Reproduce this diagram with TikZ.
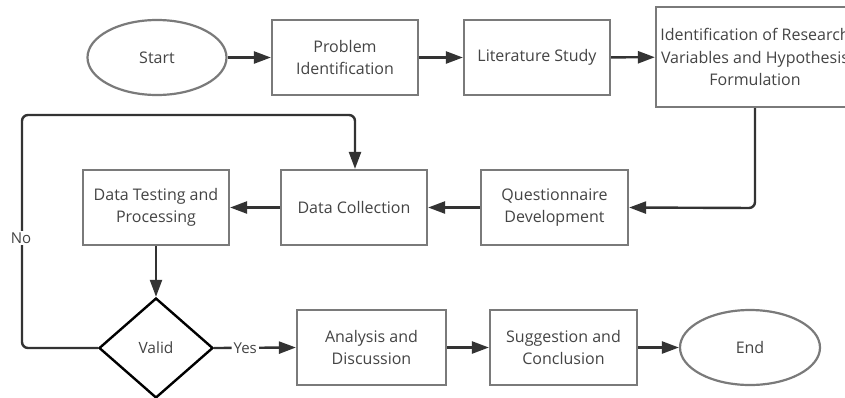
\documentclass[tikz,border=0pt]{standalone}
\usepackage{fontspec}
\setmainfont{Open Sans}
\usetikzlibrary{arrows.meta,shapes.geometric}
\definecolor{boxline}{HTML}{7A7A7A}
\definecolor{conn}{HTML}{333333}
\definecolor{txt}{HTML}{444444}
\tikzset{
  x=1pt,y=-1pt,
  procbox/.style={draw=boxline,line width=2.2pt,fill=white,minimum width=146pt,minimum height=75pt,align=center,text=txt,font=\fontsize{16}{22.5}\selectfont,inner sep=0pt},
  termbox/.style={ellipse,draw=boxline,line width=2.2pt,fill=white,minimum width=139pt,minimum height=75pt,text=txt,font=\fontsize{16}{22.5}\selectfont,inner sep=0pt},
  decbox/.style={diamond,draw=black,line width=2.4pt,fill=white,minimum width=114pt,minimum height=100pt,text=txt,font=\fontsize{15.5}{18}\selectfont,inner sep=0pt,aspect=1.14},
  arr/.style={draw=conn,line width=2.4pt,-{Triangle[length=17pt,width=12pt]},rounded corners=6pt},
  lbl/.style={text=txt,font=\fontsize{15}{18}\selectfont,fill=white,inner sep=2pt}
}
\begin{document}
\begin{tikzpicture}
\clip (0,0) rectangle (845,397);
\fill[white] (0,0) rectangle (845,397);
\node[termbox] (start) at (157,57.5) {Start};
\node[procbox] (prob) at (345,57.5) {Problem\\Identification};
\node[procbox] (lit) at (537,57.5) {Literature Study};
\node[procbox,minimum width=198pt,minimum height=100pt] (ident) at (755,57) {Identification of Research\\Variables and Hypothesis\\Formulation};
\node[procbox,minimum width=147pt] (quest) at (554.5,207.5) {Questionnaire\\Development};
\node[procbox] (coll) at (354,207.5) {Data Collection};
\node[procbox] (test) at (156,207.5) {Data Testing and\\Processing};
\node[decbox] (valid) at (156,348) {Valid};
\node[procbox,minimum width=149pt] (anal) at (371.5,347.5) {Analysis and\\Discussion};
\node[procbox,minimum width=147pt] (sugg) at (563.5,347.5) {Suggestion and\\Conclusion};
\node[termbox,minimum width=140pt] (end) at (750,347.5) {End};
\coordinate (c1) at (755,208);
\coordinate (n1) at (22,348);
\coordinate (n2) at (22,115);
\coordinate (n3) at (355,115);
\draw[arr] (start) -- (prob);
\draw[arr] (prob) -- (lit);
\draw[arr] (lit) -- (ident);
\draw[arr] (ident.south) -- (c1) -- (quest.east);
\draw[arr] (quest) -- (coll);
\draw[arr] (coll) -- (test);
\draw[arr] (test) -- (valid);
\draw[arr] (valid.east) -- node[lbl,pos=0.38] {Yes} (anal.west);
\draw[arr] (anal) -- (sugg);
\draw[arr] (sugg) -- (end);
\draw[arr] (valid.west) -- (n1) -- (n2) -- (n3) -- (coll.north -| n3);
\node[lbl] (no) at (21,238) {No};
\end{tikzpicture}
\end{document}
